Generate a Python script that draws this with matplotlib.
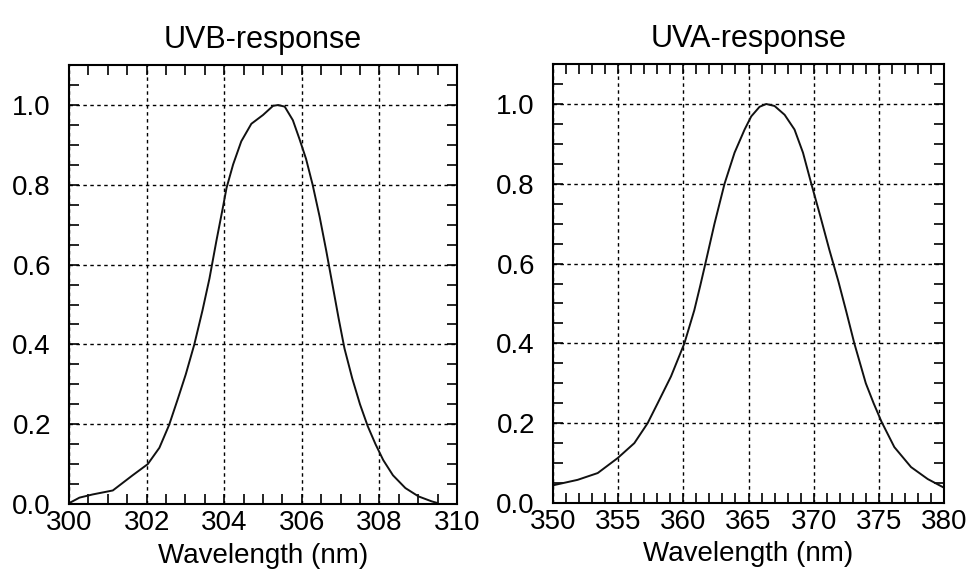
import numpy as np
import matplotlib
matplotlib.use("Agg")
import matplotlib.pyplot as plt
from matplotlib.ticker import MultipleLocator

plt.rcParams['font.family'] = ['Liberation Sans', 'DejaVu Sans']

# --- DATA ---
uvb_wl = [300.0, 300.27, 300.61, 301.13, 301.64, 302.03, 302.33, 302.58, 302.8, 303.01,
          303.23, 303.44, 303.62, 303.8, 303.97, 304.06, 304.23, 304.44, 304.7, 305.0,
          305.26, 305.39, 305.56, 305.77, 305.94, 306.11, 306.28, 306.46, 306.63, 306.8,
          306.95, 307.1, 307.3, 307.5, 307.7, 307.9, 308.1, 308.35, 308.67, 309.01,
          309.35, 309.48]
uvb_resp = [0.002, 0.016, 0.024, 0.034, 0.072, 0.10, 0.141, 0.198, 0.262, 0.325,
            0.400, 0.485, 0.565, 0.66, 0.745, 0.792, 0.851, 0.909, 0.953, 0.975,
            0.998, 1.0, 0.996, 0.962, 0.915, 0.865, 0.80, 0.72, 0.635, 0.545,
            0.465, 0.39, 0.315, 0.25, 0.195, 0.15, 0.11, 0.072, 0.04, 0.019,
            0.0066, 0.003]

uva_wl = [350.1, 351.89, 353.43, 354.96, 356.24, 357.26, 358.03, 359.05, 360.08, 360.84,
          361.3, 361.62, 362.39, 363.16, 363.93, 364.7, 365.21, 365.85, 366.36, 367.0,
          367.77, 368.53, 369.18, 369.82, 370.5, 371.2, 371.9, 372.5, 373.12, 374.0,
          374.6, 375.2, 376.19, 377.47, 378.75, 379.9]
uva_resp = [0.045, 0.058, 0.075, 0.1125, 0.15, 0.20, 0.25, 0.317, 0.40, 0.483,
            0.545, 0.59, 0.70, 0.80, 0.878, 0.936, 0.969, 0.993, 1.0, 0.995,
            0.973, 0.936, 0.878, 0.80, 0.72, 0.635, 0.555, 0.48, 0.40, 0.30,
            0.25, 0.204, 0.14, 0.09, 0.06, 0.04]

titles = ['UVB-response', 'UVA-response']
xlims = [(300, 310), (350, 380)]
x_major = [2, 5]
x_minor = [0.5, 1]

fig = plt.figure(figsize=(9.69, 5.79), dpi=100)
ax1 = fig.add_axes([0.0712, 0.1295, 0.4004, 0.758])
ax2 = fig.add_axes([0.5707, 0.1313, 0.4035, 0.758])

for ax, wl, resp, title, xl, xmaj, xmin in zip(
        [ax1, ax2], [uvb_wl, uva_wl], [uvb_resp, uva_resp], titles, xlims, x_major, x_minor):
    ax.plot(wl, resp, color='#111111', linewidth=1.4)
    ax.set_xlim(*xl)
    ax.set_ylim(0, 1.1)
    ax.xaxis.set_major_locator(MultipleLocator(xmaj))
    ax.xaxis.set_minor_locator(MultipleLocator(xmin))
    ax.yaxis.set_major_locator(MultipleLocator(0.2))
    ax.yaxis.set_minor_locator(MultipleLocator(0.05))
    ax.yaxis.set_major_formatter(plt.FormatStrFormatter('%.1f'))
    ax.grid(True, which='major', color='black', linestyle=(0, (2.5, 2.5)), linewidth=1.0)
    ax.tick_params(which='both', direction='in', top=True, right=True,
                   length=7, width=1.2, labelsize=20)
    ax.tick_params(axis='y', pad=13)
    ax.tick_params(axis='x', pad=4)
    for s in ax.spines.values():
        s.set_linewidth(1.5)
    ax.set_title(title, fontsize=22, pad=12)
    ax.set_xlabel('Wavelength (nm)', fontsize=20, labelpad=5)

fig.savefig('out.png', dpi=100)
